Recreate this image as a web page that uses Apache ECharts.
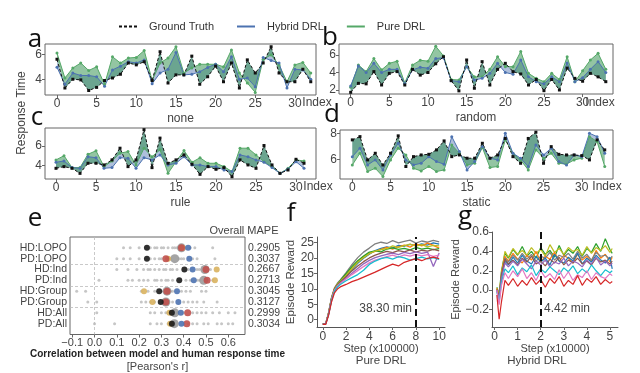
<!DOCTYPE html>
<html>
<head>
<meta charset="utf-8">
<script src="https://cdn.jsdelivr.net/npm/echarts@6/dist/echarts.min.js"></script>
<style>
html, body { margin: 0; padding: 0; background: #fff; }
#chart { width: 640px; height: 373px; }
</style>
</head>
<body>
<div id="chart"></div>
<script>
// a-d: response time per index (ground truth / hybrid / pure)
const noneTruth  = [5.6,3.3,4.0,3.95,3.1,3.35,3.9,4.1,4.4,5.3,5.15,5.4,3.9,6.2,3.7,4.35,4.35,5.85,3.6,4.2,5.05,3.8,5.3,3.3,5.55,4.5,5.3,6.6,4.5,3.8,3.8,4.8,3.8];
const noneHybrid = [4.96,3.6,4.5,4.3,4.3,4.2,3.45,4.75,5.05,5.4,5.3,5.55,3.65,4.5,4.8,6.15,4.35,4.4,4.6,4.95,5.2,4.6,5.8,4.0,4.1,3.4,5.75,5.5,5.3,3.3,4.8,4.75,4.0];
const nonePure   = [6.1,4.1,4.9,5.3,4.7,5.0,3.6,5.8,5.3,5.7,5.75,6.3,3.9,5.3,5.7,6.6,4.5,4.9,5.2,5.2,5.2,5.0,6.35,4.5,3.7,2.95,5.6,5.95,5.15,3.8,5.15,5.35,4.5];

const randomTruth  = [1.73,2.76,2.7,4.1,2.57,3.9,4.1,2.57,4.36,3.7,4.0,5.0,5.8,3.07,1.9,5.43,2.2,5.24,2.57,4.36,5.05,4.1,3.83,2.57,3.2,1.92,3.2,2.0,4.5,3.33,3.0,3.9,3.5,2.95];
const randomHybrid = [2.46,4.74,4.0,5.05,4.0,4.36,4.36,2.75,4.3,4.6,4.5,5.6,5.7,3.07,2.95,4.67,3.14,3.33,3.9,5.05,4.0,3.8,5.43,3.5,2.95,2.7,3.5,2.95,5.1,2.95,3.4,4.36,5.24,4.0];
const randomPure   = [2.3,4.86,4.1,5.6,4.3,5.05,5.3,2.8,4.86,5.4,5.3,7.0,5.9,3.2,3.14,4.67,3.5,3.5,4.36,5.8,4.67,4.67,6.4,3.9,3.33,2.95,3.9,3.2,5.8,2.95,4.2,5.43,6.2,4.36];

const ruleTruth  = [3.73,3.9,3.73,3.22,4.24,4.24,4.07,4.58,5.76,3.9,4.58,7.63,3.8,6.78,4.24,4.58,5.08,4.14,3.12,3.9,3.63,3.8,2.88,4.58,4.07,3.73,6.03,4.07,3.22,3.56,4.64,4.24];
const ruleHybrid = [4.34,4.47,3.8,3.73,4.9,4.8,3.73,3.8,4.8,4.75,3.73,4.8,4.58,5.08,4.07,4.24,4.9,4.07,4.07,3.9,3.9,3.56,3.4,5.08,4.9,4.58,4.34,3.8,3.22,3.66,4.4,3.73];
const rulePure   = [4.58,5.0,3.8,3.8,5.15,5.5,3.9,4.47,5.25,5.42,4.07,5.76,4.9,5.6,3.22,4.4,5.52,4.34,4.8,4.24,4.24,3.9,3.4,5.76,5.76,5.08,4.4,3.9,3.22,3.73,4.58,4.47];

const staticTruth  = [7.49,7.74,5.95,6.46,5.56,6.46,7.8,5.44,6.2,6.33,6.38,6.72,7.41,6.2,6.33,6.08,6.08,7.23,6.08,6.33,7.6,6.2,5.69,7.6,8.08,5.69,6.97,6.38,6.33,6.33,6.28,5.95,7.49,6.72];
const staticHybrid = [6.2,6.85,5.56,5.95,5.18,6.33,7.23,5.95,5.56,5.69,6.2,5.82,5.62,7.74,6.59,5.18,5.82,6.97,6.08,5.95,8.0,6.46,6.08,5.44,7.1,6.33,6.85,5.82,5.56,6.33,6.2,8.0,7.74,6.46];
const staticPure   = [5.56,6.46,5.05,5.3,4.67,5.95,6.85,6.33,5.3,5.1,5.44,5.05,5.18,7.1,6.46,5.56,5.69,6.9,5.36,5.44,7.49,6.46,5.95,5.18,6.72,6.08,6.46,5.69,5.62,5.95,6.08,7.74,7.36,5.44];

// tick labels
const indexTicks  = [0, 5, 10, 15, 20, 25, 30];
const noneTicks   = [4, 6];
const randomTicks = [2, 4, 6];
const ruleTicks   = [4, 6];
const staticTicks = [6, 8];
const corrTicks   = [-0.1, 0, 0.1, 0.2, 0.3, 0.4, 0.5, 0.6];
const fStepTicks  = [0, 2, 4, 6, 8, 10];
const fRewardTicks = [0, 5, 10, 15, 20, 25];
const gStepTicks  = [0, 1, 2, 3, 4, 5];
const gRewardTicks = [-0.2, 0, 0.2, 0.4, 0.6];

// e: correlation per model row
const eRows = ['HD:LOPO','PD:LOPO','HD:Ind','PD:Ind','HD:Group','PD:Group','HD:All','PD:All'];
const eMape = ['0.2905','0.3037','0.2667','0.2713','0.3045','0.3127','0.2999','0.3034'];
const eBlack  = [0.235,0.235,0.403,0.38,0.29,0.297,0.347,0.347];
const eGreyBig = [0.39,0.36,0.495,0.49,0.325,0.32,0.36,0.358];
const eRed    = [0.39,0.32,0.50,0.505,0.325,0.32,0.418,0.414];
const eBlue   = [0.42,0.425,0.44,0.445,0.37,0.376,0.387,0.39];
const eYellow = [0.395,0.33,0.548,0.54,0.222,0.26,0.336,0.339];
const eGrey = [
  [0.13,0.16,0.2,0.25,0.27,0.28,0.3,0.31,0.33,0.35,0.36,0.37,0.43,0.45,0.53],
  [0.1,0.13,0.16,0.2,0.25,0.27,0.29,0.3,0.33,0.34,0.38,0.39,0.4,0.44,0.46,0.54],
  [0.1,0.15,0.19,0.22,0.24,0.25,0.27,0.29,0.31,0.32,0.34,0.35,0.37,0.42,0.46,0.47,0.52],
  [0.02,0.15,0.17,0.2,0.22,0.24,0.27,0.28,0.3,0.32,0.33,0.35,0.41,0.43,0.46,0.47,0.53],
  [-0.08,-0.04,0.21,0.24,0.27,0.31,0.34,0.35,0.39,0.41,0.43,0.48,0.5],
  [-0.03,0.01,0.21,0.23,0.25,0.27,0.31,0.33,0.35,0.4,0.42,0.44,0.46,0.49,0.55],
  [0.01,0.25,0.27,0.3,0.32,0.33,0.37,0.4,0.44,0.46,0.48,0.5,0.53,0.56,0.6,0.63],
  [0.0,0.09,0.25,0.28,0.3,0.33,0.36,0.42,0.44,0.46,0.49,0.51,0.55,0.57,0.6,0.62]
];

// f: pure DRL episode reward (step x100000)
const fStep = [0,0.25,0.5,0.75,1,1.25,1.5,2,2.5,3,3.5,4,4.5,5,5.5,6,6.5,7,7.5,8,8.5,9,9.5,10];
const fGrey   = [-1.5,-1.3,2.4,7.2,10.3,11.8,12.9,15.2,17.8,20.1,21.9,23.2,24.6,25.1,24.7,25.6,24.9,25.4,25.8,24.8,25.5,25.1,25.7,25.2];
const fBlue   = [-1.5,-1.4,2.0,6.8,9.8,11.2,12.3,14.1,16.2,18.3,19.9,21.2,22.4,23.1,23.6,23.2,24.1,23.8,24.4,24.0,24.6,24.2,24.9,24.5];
const fOrange = [-1.5,-1.3,2.2,7.0,10.0,11.5,12.5,14.6,16.8,18.9,20.4,21.6,22.1,22.8,23.4,22.9,23.6,24.2,23.5,24.6,23.9,24.8,24.1,23.2];
const fGreen  = [-1.5,-1.4,2.1,6.9,9.9,11.4,12.6,14.9,17.2,19.1,20.6,21.9,22.3,22.0,22.9,23.3,22.8,23.1,22.6,23.4,22.9,23.2,22.7,23.0];
const fOlive  = [-1.5,-1.3,2.1,6.8,9.8,11.3,12.4,14.3,16.5,18.6,20.1,21.4,22.2,22.7,23.0,23.9,23.4,24.0,24.5,23.8,24.3,23.6,24.1,23.9];
const fBrown  = [-1.5,-1.3,2.0,6.7,9.7,11.1,12.1,13.9,15.8,17.4,18.8,20.0,20.9,21.6,22.1,21.7,22.4,22.0,22.6,21.9,22.5,22.2,22.8,22.3];
const fPurple = [-1.5,-1.4,1.8,6.4,9.4,10.9,11.8,13.4,15.0,16.6,18.1,19.2,20.1,20.7,21.2,21.6,21.1,21.8,21.4,22.0,21.5,21.9,17.2,21.6];
const fPink   = [-1.5,-1.4,1.9,6.5,9.5,10.8,11.7,13.2,14.6,15.9,17.2,18.4,19.3,19.9,20.4,20.9,20.3,21.0,20.6,21.2,20.7,21.1,20.5,20.9];
const fCyan   = [-1.5,-1.4,1.7,6.2,9.2,10.5,11.4,12.6,13.6,14.6,16.0,17.9,19.0,19.8,20.2,19.6,20.4,20.0,19.3,19.8,20.3,19.7,20.1,19.5];
const fRed    = [-1.5,-1.5,1.5,5.8,8.7,9.9,10.6,11.4,12.3,13.0,13.8,14.6,15.4,16.3,17.2,18.0,17.4,18.6,19.2,19.8,19.1,19.9,20.3,19.8];

// g: hybrid DRL episode reward (step x10000)
const gStep = [0.1,0.2,0.3,0.45,0.6,0.8,1.0,1.2,1.4,1.6,1.8,2.0,2.2,2.4,2.6,2.8,3.0,3.2,3.4,3.6,3.8,4.0,4.2,4.4,4.6,4.8,5.0,5.1];
const gGreen  = [0.03,-0.04,0.20,0.38,0.33,0.42,0.36,0.45,0.35,0.40,0.33,0.44,0.37,0.41,0.34,0.46,0.36,0.42,0.38,0.45,0.35,0.43,0.39,0.48,0.40,0.53,0.42,0.38];
const gOlive  = [0.02,-0.05,0.16,0.40,0.34,0.43,0.37,0.41,0.36,0.44,0.38,0.42,0.35,0.47,0.39,0.43,0.37,0.44,0.40,0.42,0.36,0.45,0.38,0.44,0.41,0.46,0.39,0.43];
const gOrange = [0.02,-0.06,0.18,0.35,0.30,0.38,0.32,0.28,0.36,0.31,0.40,0.29,0.35,0.32,0.39,0.30,0.36,0.33,0.28,0.37,0.31,0.35,0.30,0.41,0.33,0.37,0.29,0.34];
const gGrey   = [0.0,-0.09,0.13,0.33,0.29,0.36,0.31,0.38,0.32,0.37,0.30,0.35,0.33,0.39,0.31,0.36,0.34,0.38,0.32,0.40,0.33,0.37,0.31,0.39,0.35,0.36,0.32,0.35];
const gBlue   = [0.0,-0.08,0.15,0.30,0.26,0.34,0.28,0.36,0.30,0.27,0.35,0.29,0.33,0.26,0.37,0.30,0.28,0.34,0.30,0.38,0.27,0.33,0.29,0.36,0.31,0.28,0.34,0.22];
const gBrown  = [0.01,-0.07,0.14,0.32,0.27,0.31,0.26,0.33,0.29,0.35,0.27,0.30,0.25,0.32,0.28,0.34,0.26,0.31,0.28,0.33,0.27,0.30,0.26,0.33,0.29,0.31,0.27,0.30];
const gPurple = [0.0,-0.10,0.12,0.28,0.24,0.30,0.25,0.32,0.27,0.22,0.30,0.26,0.31,0.24,0.29,0.27,0.33,0.25,0.30,0.28,0.24,0.31,0.27,0.34,0.26,0.30,0.25,0.28];
const gCyan   = [-0.02,-0.12,0.08,0.22,0.18,0.25,0.16,0.23,0.19,0.26,0.15,0.22,0.18,0.24,0.20,0.16,0.23,0.19,0.25,0.17,0.22,0.18,0.26,0.20,0.15,0.21,0.18,0.20];
const gPink   = [0.0,-0.15,0.05,0.18,0.12,0.20,0.14,0.22,0.12,0.18,0.10,0.20,0.13,0.17,0.11,0.21,0.12,0.19,0.10,0.16,0.13,0.20,0.11,0.18,0.14,0.12,0.17,0.15];
const gRed    = [-0.05,-0.30,-0.12,0.10,0.05,0.12,0.04,0.10,0.05,0.13,0.06,0.11,0.03,0.12,0.07,0.14,0.04,0.10,0.06,0.15,0.05,0.12,0.08,0.14,0.06,0.11,0.07,0.09];

const FONT = 'Liberation Sans';
const TXT = '#444';
const GT_COLOR = '#111';
const HY_COLOR = '#4c72b0';
const PU_COLOR = '#55a868';
const FILL_HY = 'rgba(76,114,176,0.45)';
const FILL_PU = 'rgba(40,140,70,0.5)';

function fmt(digits) {
    return v => {
        let s = Number(v).toFixed(digits);
        if (s.charAt(0) === '-') s = '\u2212' + s.slice(1);
        return s;
    };
}

const grids = [], xAxes = [], yAxes = [], series = [], graphics = [];

function addText(text, x, y, size, extra) {
    graphics.push({
        type: 'text', x: x, y: y, silent: true,
        style: Object.assign({ text: text, fill: TXT, font: size + 'px "' + FONT + '"', align: 'center', verticalAlign: 'middle' }, extra || {})
    });
    return graphics[graphics.length - 1];
}

// axes keep to the grid edge (no onZero), ticks only at the listed values
function valueAxis(k, min, max, ticks, digits, extra) {
    return Object.assign({
        gridIndex: k, type: 'value', min: min, max: max,
        axisLine: { show: false, onZero: false }, splitLine: { show: false },
        axisTick: { show: true, length: 3, customValues: ticks, lineStyle: { color: '#666' } },
        axisLabel: { customValues: ticks, formatter: fmt(digits), color: TXT, fontSize: 12, fontFamily: FONT, margin: 3 }
    }, extra || {});
}

const rtPanels = [
    { name: 'none',   truth: noneTruth,   hybrid: noneHybrid,   pure: nonePure,   ticks: noneTicks,   box: { left: 45,  top: 44,  width: 271, height: 51 }, x: [-1.51, 32.66], y: [2.74, 6.82] },
    { name: 'random', truth: randomTruth, hybrid: randomHybrid, pure: randomPure, ticks: randomTicks, box: { left: 339, top: 44,  width: 274, height: 50 }, x: [-1.51, 33.93], y: [1.54, 7.26] },
    { name: 'rule',   truth: ruleTruth,   hybrid: ruleHybrid,   pure: rulePure,   ticks: ruleTicks,   box: { left: 45,  top: 128, width: 271, height: 51 }, x: [-1.375, 32.5], y: [2.65, 7.8] },
    { name: 'static', truth: staticTruth, hybrid: staticHybrid, pure: staticPure, ticks: staticTicks, box: { left: 340, top: 130, width: 273, height: 49 }, x: [-1.61, 34.08], y: [4.48, 8.25] }
];

rtPanels.forEach((p, k) => {
    grids.push(Object.assign({ show: true, borderColor: '#666', borderWidth: 1, backgroundColor: 'transparent' }, p.box));
    xAxes.push(valueAxis(k, p.x[0], p.x[1], indexTicks, 0, {
        name: p.name, nameLocation: 'middle', nameGap: 18,
        nameTextStyle: { color: TXT, fontSize: 12, fontFamily: FONT }
    }));
    yAxes.push(valueAxis(k, p.y[0], p.y[1], p.ticks, 0));
    const poly = (other, fill) => ({
        type: 'custom', xAxisIndex: k, yAxisIndex: k, silent: true, z: 1,
        data: [[0, p.truth[0]]],
        renderItem: (params, api) => {
            const a = p.truth.map((v, i) => api.coord([i, v]));
            const b = other.map((v, i) => api.coord([i, v])).reverse();
            return { type: 'polygon', shape: { points: a.concat(b) }, style: { fill: fill } };
        }
    });
    series.push(poly(p.hybrid, FILL_HY), poly(p.pure, FILL_PU));
    const line = (name, arr, color, sym, dashed) => ({
        type: 'line', name: name, xAxisIndex: k, yAxisIndex: k, z: 3,
        data: arr.map((v, i) => [i, v]),
        symbol: sym, symbolSize: 3, showAllSymbol: true,
        lineStyle: { width: 1, color: color, type: dashed ? [3, 2] : 'solid' },
        itemStyle: { color: color }
    });
    series.push(line('Pure DRL', p.pure, PU_COLOR, 'circle', false));
    series.push(line('Hybrid DRL', p.hybrid, HY_COLOR, 'circle', false));
    series.push(line('Ground Truth', p.truth, GT_COLOR, 'rect', true));
});

addText('Index', 317, 103, 12);
addText('Index', 600, 103, 12);
addText('Index', 318, 187, 12);
addText('Index', 607, 187, 12);
addText('Response Time', 22, 113, 12).rotation = Math.PI / 2;

// e: correlation dot plot
const E = rtPanels.length;
grids.push({ show: true, borderColor: '#666', borderWidth: 1, left: 70, top: 237, width: 175, height: 99 });
xAxes.push(valueAxis(E, -0.11, 0.675, corrTicks, 1, {
    name: '{b|Correlation between model and human response time}\n{n|[Pearson\'s r]}',
    nameLocation: 'middle', nameGap: 14,
    nameTextStyle: {
        verticalAlign: 'top',
        rich: {
            b: { fontSize: 10, fontWeight: 'bold', fontFamily: FONT, color: '#222', lineHeight: 12 },
            n: { fontSize: 11, fontFamily: FONT, color: TXT, lineHeight: 12 }
        }
    }
}));
xAxes[E].axisLabel.fontSize = 11;
const eAxisBase = {
    gridIndex: E, type: 'value', min: -1, max: 8, interval: 1, inverse: true,
    axisLine: { show: false, onZero: false }, splitLine: { show: false },
    axisTick: { show: false }
};
yAxes.push(Object.assign({}, eAxisBase, {
    position: 'left',
    axisLabel: { formatter: v => eRows[v] || '', color: TXT, fontSize: 10.5, fontFamily: FONT, margin: 3 }
}));
yAxes.push(Object.assign({}, eAxisBase, {
    position: 'right',
    axisLabel: { formatter: v => eMape[v] || '', color: TXT, fontSize: 10.5, fontFamily: FONT, margin: 3 }
}));
const eSmall = [];
eGrey.forEach((row, r) => row.forEach(v => eSmall.push([v, r])));
const eDot = (vals, color, size, z) => ({
    type: 'scatter', xAxisIndex: E, yAxisIndex: E, z: z, silent: true,
    data: vals.map((v, r) => [v, r]), symbolSize: size, itemStyle: { color: color, opacity: 0.9 }
});
series.push({
    type: 'scatter', xAxisIndex: E, yAxisIndex: E, z: 2, silent: true,
    data: eSmall, symbolSize: 3, itemStyle: { color: '#b8b8b8' },
    markLine: {
        silent: true, symbol: 'none', label: { show: false },
        lineStyle: { color: '#bbb', type: [3, 2], width: 0.8 },
        data: [{ xAxis: 0 }, { yAxis: 1.5 }, { yAxis: 3.5 }, { yAxis: 5.5 }]
    }
});
series.push(eDot(eGreyBig, '#9a9a9a', 9, 3));
series.push(eDot(eYellow, '#d9b25f', 6, 4));
series.push(eDot(eRed, '#c0504d', 7, 5));
series.push(eDot(eBlue, '#4c72b0', 6, 6));
series.push(eDot(eBlack, '#1a1a1a', 6, 7));
addText('Overall MAPE', 244, 231, 11);

// f and g: training curves
const F = E + 1, G = E + 2;
const spine = { show: true, onZero: false, lineStyle: { color: '#555' } };

grids.push({ left: 317, top: 237, width: 128, height: 90 });
xAxes.push(valueAxis(F, -0.5, 10.5, fStepTicks, 0, {
    axisLine: spine,
    name: 'Step (x100000)', nameLocation: 'middle', nameGap: 16,
    nameTextStyle: { color: TXT, fontSize: 11, fontFamily: FONT }
}));
xAxes[F].axisLabel.margin = 4;
const F_Y = yAxes.length;
yAxes.push(valueAxis(F, -2.4, 26.8, fRewardTicks, 0, {
    axisLine: spine,
    name: 'Episode Reward', nameLocation: 'middle', nameGap: 18,
    nameTextStyle: { color: TXT, fontSize: 11.5, fontFamily: FONT }
}));
const fColors = ['#7f7f7f', '#1f77b4', '#ff7f0e', '#2ca02c', '#bcbd22', '#8c564b', '#9467bd', '#e377c2', '#17becf', '#d62728'];
[fGrey, fBlue, fOrange, fGreen, fOlive, fBrown, fPurple, fPink, fCyan, fRed].forEach((c, i) => {
    series.push({
        type: 'line', xAxisIndex: F, yAxisIndex: F_Y, silent: true, z: 2,
        data: fStep.map((x, j) => [x, c[j]]), symbol: 'none',
        lineStyle: { width: 1.3, color: fColors[i] }
    });
});
series[series.length - 1].markLine = {
    silent: true, symbol: 'none', label: { show: false },
    lineStyle: { color: '#111', type: [7, 4], width: 2 }, data: [{ xAxis: 8 }]
};
addText('38.30 min', 412, 309, 12, { align: 'right' });
addText('Pure DRL', 381, 361, 11.5);

grids.push({ left: 492, top: 232, width: 126, height: 95 });
xAxes.push(valueAxis(G, -0.11, 5.35, gStepTicks, 0, {
    axisLine: spine,
    name: 'Step (x10000)', nameLocation: 'middle', nameGap: 16,
    nameTextStyle: { color: TXT, fontSize: 11, fontFamily: FONT }
}));
xAxes[G].axisLabel.margin = 4;
const G_Y = yAxes.length;
yAxes.push(valueAxis(G, -0.38, 0.6, gRewardTicks, 1, {
    axisLine: spine,
    name: 'Episode Reward', nameLocation: 'middle', nameGap: 30,
    nameTextStyle: { color: TXT, fontSize: 11, fontFamily: FONT }
}));
const gColors = ['#2ca02c', '#bcbd22', '#ff7f0e', '#7f7f7f', '#1f77b4', '#8c564b', '#9467bd', '#17becf', '#e377c2', '#d62728'];
[gGreen, gOlive, gOrange, gGrey, gBlue, gBrown, gPurple, gCyan, gPink, gRed].forEach((c, i) => {
    series.push({
        type: 'line', xAxisIndex: G, yAxisIndex: G_Y, silent: true, z: 2,
        data: gStep.map((x, j) => [x, c[j]]), symbol: 'none',
        lineStyle: { width: 1.2, color: gColors[i] }
    });
});
series[series.length - 1].markLine = {
    silent: true, symbol: 'none', label: { show: false },
    lineStyle: { color: '#111', type: [7, 4], width: 2 }, data: [{ xAxis: 2 }]
};
addText('4.42 min', 544, 309, 12, { align: 'left' });
addText('Hybrid DRL', 537, 361, 11.5);

// panel letters
const LETTER = { fill: '#111', font: '26px "Open Sans"' };
addText('a', 35, 40, 26, LETTER);
addText('b', 330, 38, 26, LETTER);
addText('c', 37, 118, 26, LETTER);
addText('d', 332, 115, 26, LETTER);
addText('e', 35, 219, 26, LETTER);
addText('f', 291, 214, 26, LETTER);
addText('g', 465, 217, 26, LETTER);

const chart = echarts.init(document.getElementById('chart'));
chart.setOption({
    animation: false,
    backgroundColor: '#fff',
    legend: {
        top: 16, left: 113, itemWidth: 18, itemHeight: 10, itemGap: 22,
        data: ['Ground Truth', 'Hybrid DRL', 'Pure DRL'],
        itemStyle: { opacity: 0 },
        textStyle: { color: '#333', fontSize: 11, fontFamily: FONT, padding: [0, 0, 0, 7] }
    },
    grid: grids,
    xAxis: xAxes,
    yAxis: yAxes,
    series: series,
    graphic: graphics
});
</script>
</body>
</html>
